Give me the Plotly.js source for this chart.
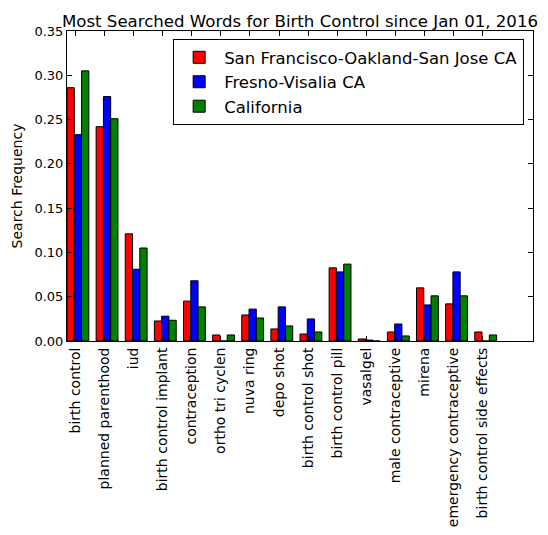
<!DOCTYPE html>
<html><head><meta charset="utf-8">
<script src="https://cdn.plot.ly/plotly-3.0.1.min.js"></script>
<style>body{margin:0;background:#fff}#chart{width:548px;height:535px}</style>
</head><body><div id="chart"></div>
<script>
var categories = ["birth control","planned parenthood","iud","birth control implant","contraception","ortho tri cyclen","nuva ring","depo shot","birth control shot","birth control pill","vasalgel","male contraceptive","mirena","emergency contraceptive","birth control side effects"];
var sanFrancisco = [0.286,0.242,0.121,0.0226,0.045,0.0068,0.0294,0.0136,0.0079,0.0826,0.0023,0.0102,0.060,0.0419,0.0102];
var fresno = [0.233,0.276,0.081,0.028,0.068,0,0.036,0.0385,0.0249,0.078,0.0011,0.0192,0.0407,0.078,0];
var california = [0.305,0.251,0.105,0.0234,0.0385,0.0068,0.026,0.017,0.0102,0.0868,0,0.0057,0.051,0.051,0.0068];
var seriesNames = ["San Francisco-Oakland-San Jose CA","Fresno-Visalia CA","California"];
var yTicks = [0,0.05,0.10,0.15,0.20,0.25,0.30,0.35];

var font = "DejaVu Sans, sans-serif";
var w = 0.25;
function tr(name, vals, color, off){
  return {type:'bar', name:name, x:categories, y:vals, width:w, offset:off,
    marker:{color:color, line:{color:'#000', width:1}}};
}
var data = [
  tr(seriesNames[0], sanFrancisco, '#ff0000', -0.28),
  tr(seriesNames[1], fresno, '#0000ff', -0.03),
  tr(seriesNames[2], california, '#008000', 0.22)
];
var layout = {
  width:548, height:535,
  margin:{l:67, r:15, t:31, b:194},
  paper_bgcolor:'#fff', plot_bgcolor:'#fff',
  barmode:'overlay',
  font:{family:font, size:13, color:'#000'},
  title:{text:'Most Searched Words for Birth Control since Jan 01, 2016', font:{family:font, size:16.6, color:'#000'},
    xref:'paper', x:0.5, xanchor:'center', yref:'paper', y:1, yanchor:'bottom', pad:{b:4}},
  xaxis:{type:'category', range:[-0.28, 15.72], tickangle:-90, ticks:'inside', ticklen:5, tickcolor:'#000',
    showline:true, linecolor:'#000', linewidth:1, mirror:'allticks', showgrid:false, zeroline:false,
    tickfont:{family:font, size:14, color:'#000'}},
  yaxis:{range:[0,0.35], tickvals:yTicks, tickformat:'.2f', ticks:'inside', ticklen:5, tickcolor:'#000',
    showline:true, linecolor:'#000', linewidth:1, mirror:'allticks', showgrid:false, zeroline:false,
    tickfont:{family:font, size:13, color:'#000'},
    title:{text:'Search Frequency', font:{family:font, size:14, color:'#000'}, standoff:8}},
  legend:{x:0.981, xanchor:'right', y:0.974, yanchor:'top', bgcolor:'#fff', bordercolor:'#000', borderwidth:1,
    font:{family:font, size:16.5, color:'#000'}, tracegroupgap:0, itemwidth:40},
  showlegend:true
};
Plotly.newPlot('chart', data, layout, {displayModeBar:false, staticPlot:true});
</script></body></html>
